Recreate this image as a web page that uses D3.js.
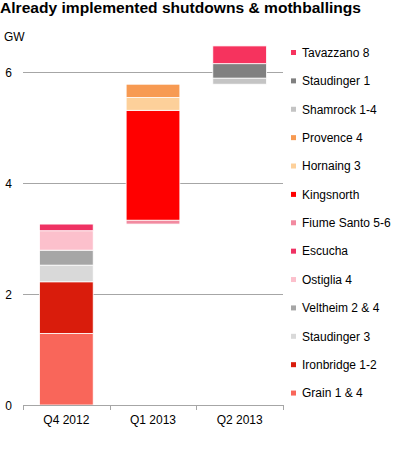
<!DOCTYPE html>
<html lang="en">
<head>
<meta charset="utf-8">
<style type="text/css">
    body { margin: 0; background: #fff; }
    text { font-family: "Liberation Sans", Arial, sans-serif; fill: #000; }
    .grid { stroke: #a6a6a6; stroke-width: 1px; }
</style>
</head>
<body>
<svg width="401" height="451"></svg>

<script src="https://d3js.org/d3.v7.min.js" type="text/javascript"></script>

<script type="text/javascript">
    // quarters on the x axis
    var categories = ["Q4 2012", "Q1 2013", "Q2 2013"];

    // plants, bottom to top of the waterfall
    var plants = ["Grain 1 & 4", "Ironbridge 1-2", "Staudinger 3", "Veltheim 2 & 4", "Ostiglia 4", "Escucha",
                  "Fiume Santo 5-6", "Kingsnorth", "Hornaing 3", "Provence 4",
                  "Shamrock 1-4", "Staudinger 1", "Tavazzano 8"];
    var quarter = ["Q4 2012", "Q4 2012", "Q4 2012", "Q4 2012", "Q4 2012", "Q4 2012",
                   "Q1 2013", "Q1 2013", "Q1 2013", "Q1 2013",
                   "Q2 2013", "Q2 2013", "Q2 2013"];
    var capacity = [1.29, 0.93, 0.30, 0.27, 0.35, 0.12,
                    0.07, 1.98, 0.23, 0.24,
                    0.11, 0.26, 0.32];
    var colours = ["#f9665a", "#d91c0c", "#d9d9d9", "#a6a6a6", "#fcc0cc", "#ef3263",
                   "#f28aa0", "#ff0000", "#fdd09a", "#f79a52",
                   "#c4c4c4", "#808080", "#f6335e"];
    var yTicks = [0, 2, 4, 6];

    var svg = d3.select("svg");

    var x = d3.scaleBand().domain(categories).range([23, 283]).paddingInner(0.38).paddingOuter(0.19);
    var band = d3.scaleBand().domain(categories).range([23, 283]);
    var y = d3.scaleLinear().domain([0, 6]).range([405, 72]);

    // waterfall: every plant starts where the previous one ended
    var run = 0;
    var segs = plants.map(function (p, i) {
        var s = {name: p, q: quarter[i], y0: run, y1: run + capacity[i], c: colours[i]};
        run += capacity[i];
        return s;
    });

    svg.append("text").attr("x", 0).attr("y", 13)
        .style("font-weight", "bold").style("font-size", "15px")
        .attr("textLength", 361).attr("lengthAdjust", "spacingAndGlyphs")
        .text("Already implemented shutdowns & mothballings");

    svg.append("text").attr("x", 4).attr("y", 41).style("font-size", "12px").text("GW");

    svg.selectAll(".grid").data(yTicks.filter(function (d) { return d > 0; }))
        .enter().append("line").attr("class", "grid")
        .attr("x1", 23).attr("x2", 283)
        .attr("y1", function (d) { return Math.round(y(d)) + 0.5; })
        .attr("y2", function (d) { return Math.round(y(d)) + 0.5; });

    svg.selectAll(".ylab").data(yTicks).enter().append("text")
        .attr("class", "ylab").attr("x", 8.5).attr("text-anchor", "middle")
        .attr("y", function (d) { return y(d) + 4.5; })
        .style("font-size", "12px")
        .text(function (d) { return d; });

    svg.selectAll(".bar").data(segs).enter().append("rect")
        .attr("class", "bar")
        .attr("x", function (d) { return x(d.q); })
        .attr("width", x.bandwidth())
        .attr("y", function (d) { return y(d.y1); })
        .attr("height", function (d) { return y(d.y0) - y(d.y1); })
        .attr("fill", function (d) { return d.c; })
        .attr("stroke", "#fff").attr("stroke-width", 0.8);

    // x axis with ticks between the quarters
    var xa = svg.append("g");
    xa.append("line").attr("x1", 23).attr("x2", 283).attr("y1", 405.5).attr("y2", 405.5)
        .attr("stroke", "#a6a6a6");
    xa.selectAll(".xt").data(categories.concat(["end"])).enter().append("line")
        .attr("x1", function (d, i) { return Math.round(23 + i * band.bandwidth()) + 0.5; })
        .attr("x2", function (d, i) { return Math.round(23 + i * band.bandwidth()) + 0.5; })
        .attr("y1", 405).attr("y2", 410).attr("stroke", "#a6a6a6");
    xa.selectAll(".xl").data(categories).enter().append("text")
        .attr("x", function (d) { return band(d) + band.bandwidth() / 2; })
        .attr("y", 424).attr("text-anchor", "middle").style("font-size", "12px")
        .text(function (d) { return d; });

    // legend, top to bottom
    var leg = svg.selectAll(".leg").data(segs.slice().reverse()).enter().append("g")
        .attr("transform", function (d, i) { return "translate(291," + (52.5 + i * 28.38) + ")"; });
    leg.append("rect").attr("x", 0).attr("y", -2.5).attr("width", 5).attr("height", 5)
        .attr("fill", function (d) { return d.c; });
    leg.append("text").attr("x", 11).attr("y", 4.3).style("font-size", "12px")
        .text(function (d) { return d.name; });
</script>
</body>
</html>
